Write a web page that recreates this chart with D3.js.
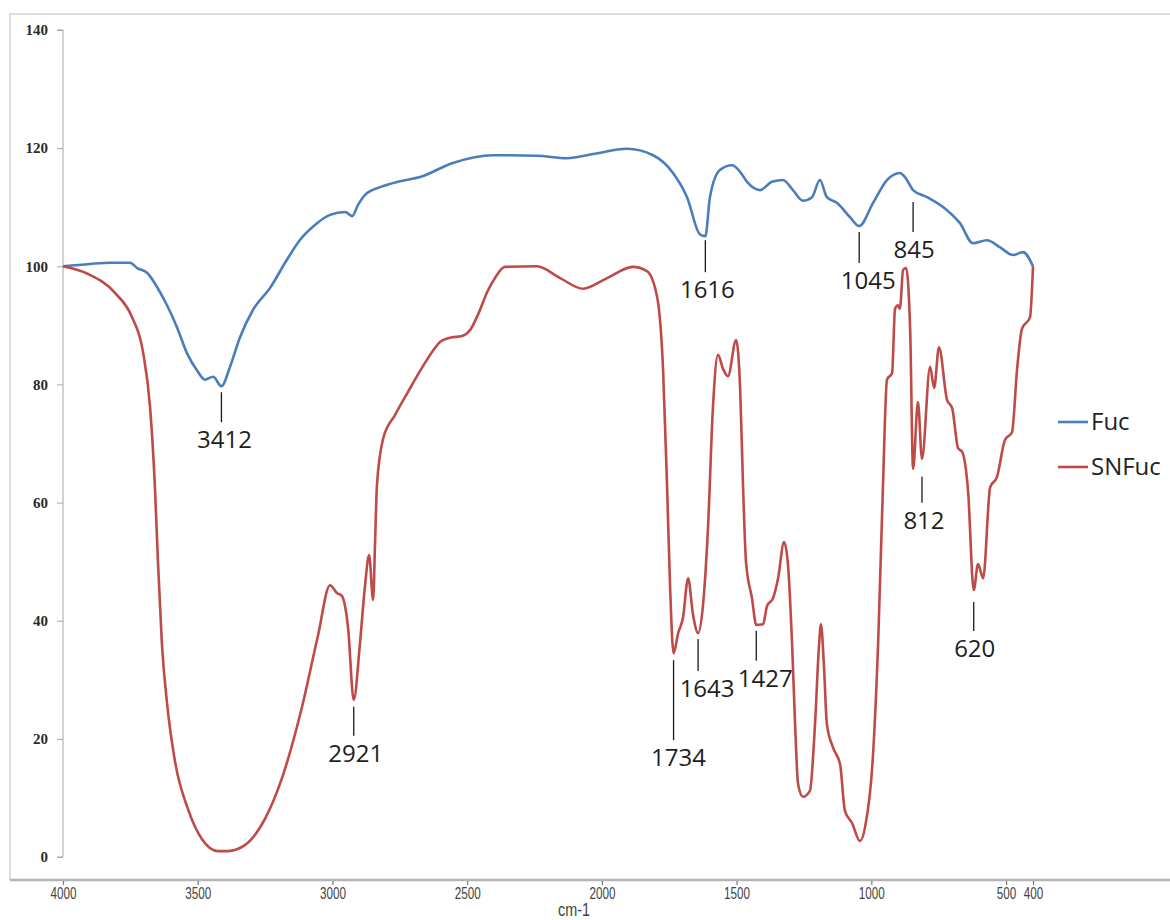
<!DOCTYPE html>
<html>
<head>
<meta charset="utf-8">
<script src="https://cdn.jsdelivr.net/npm/d3@7"></script>
<style>
  html, body { margin: 0; padding: 0; background: #ffffff; }
  svg { display: block; }
</style>
</head>
<body>
<svg id="chart" width="1170" height="920"></svg>
<script>
// FTIR spectra of fucoidan (Fuc) and its modified form (SNFuc), transmittance vs wavenumber

const seriesNames = ["Fuc", "SNFuc"];
const seriesColors = ["#4a7ebb", "#be4b48"];

const fucWavenumbers = [4000, 3900, 3826, 3751, 3725, 3688, 3651, 3614, 3577, 3540, 3503, 3473, 3443, 3412,
  3380, 3343, 3295, 3232, 3169, 3120, 3065, 3009, 2953, 2927, 2905, 2879, 2823, 2749, 2675, 2553, 2404,
  2241, 2129, 2033, 1907, 1810, 1736, 1684, 1636, 1616, 1599, 1562, 1517, 1487, 1458, 1413, 1369, 1328,
  1291, 1254, 1220, 1191, 1165, 1127, 1079, 1045, 994, 942, 894, 875, 845, 793, 719, 671, 623, 571, 522,
  474, 437, 400];
const fucValues = [100, 100.4, 100.6, 100.6, 99.7, 98.9, 96.5, 93.4, 89.7, 85.3, 82.4, 80.8, 81.3, 79.7,
  83.0, 88.0, 92.6, 96.3, 101.1, 104.5, 107.0, 108.7, 109.2, 108.5, 110.4, 112.1, 113.4, 114.4, 115.1,
  117.5, 118.8, 118.7, 118.3, 119.0, 119.9, 118.8, 115.8, 111.7, 105.4, 105.1, 111.7, 116.3, 117.1, 116.0,
  114.1, 112.9, 114.3, 114.6, 112.9, 111.1, 111.7, 114.6, 111.7, 110.7, 108.3, 106.8, 110.7, 114.6, 115.8,
  115.1, 112.9, 111.7, 109.5, 107.3, 103.9, 104.4, 103.2, 101.9, 102.4, 100];

const snfucWavenumbers = [4000, 3907, 3807, 3744, 3703, 3677, 3659, 3647, 3633, 3614, 3584, 3536, 3484,
  3425, 3388, 3325, 3250, 3187, 3113, 3054, 3009, 2983, 2965, 2942, 2921, 2898, 2879, 2864, 2849, 2842,
  2835, 2812, 2768, 2720, 2668, 2619, 2601, 2564, 2519, 2489, 2460, 2426, 2397, 2360, 2241, 2155, 2070,
  1981, 1885, 1833, 1795, 1773, 1758, 1747, 1734, 1717, 1699, 1680, 1662, 1643, 1625, 1606, 1588, 1569,
  1550, 1532, 1502, 1487, 1476, 1465, 1443, 1427, 1402, 1387, 1365, 1346, 1324, 1309, 1294, 1283, 1272,
  1254, 1228, 1209, 1194, 1187, 1176, 1165, 1142, 1116, 1098, 1072, 1042, 1023, 994, 975, 957, 942, 923,
  912, 901, 894, 882, 871, 856, 845, 827, 812, 782, 767, 749, 719, 700, 678, 663, 641, 620, 604, 585, 559,
  534, 504, 478, 459, 441, 411, 400];
const snfucValues = [100, 98.7, 95.5, 91.4, 85.5, 76.2, 62.8, 49.4, 36.1, 26.1, 16.1, 8.1, 3.0, 1.0,
  1.0, 2.0, 6.5, 13.4, 25.4, 37.4, 46.0, 44.7, 44.2, 38.8, 26.6, 36.1, 46.0, 51.1, 43.5, 53.0, 62.8, 70.8,
  74.8, 78.7, 82.8, 86.2, 87.2, 87.9, 88.2, 89.2, 91.8, 95.6, 98.0, 99.9, 100, 98.0, 96.2, 98.0, 99.9, 99.2,
  94.8, 82.6, 62.6, 45.9, 34.5, 37.9, 40.5, 47.2, 41.1, 37.9, 42.5, 55.9, 76.0, 85.0, 82.6, 81.4, 87.5,
  79.4, 62.6, 49.9, 43.8, 39.3, 39.4, 42.5, 43.8, 47.2, 53.3, 49.3, 35.9, 22.5, 12.4, 10.2, 11.2, 22.5,
  35.9, 39.4, 32.5, 22.5, 18.5, 15.7, 7.8, 5.8, 2.7, 5.1, 17.1, 35.9, 62.6, 80.8, 81.9, 92.8, 93.4, 92.8,
  99.4, 99.7, 89.4, 65.7, 77.0, 67.4, 83.0, 79.4, 86.3, 77.4, 76.0, 69.2, 68.6, 62.0, 45.2, 49.6, 47.2,
  62.6, 64.3, 70.6, 71.9, 82.6, 89.4, 91.4, 100];

// Band assignments marked on the spectra
const calloutLabels = ["3412", "1616", "1045", "845", "2921", "1734", "1643", "1427", "812", "620"];
const calloutWavenumbers = [3412, 1616, 1045, 845, 2921, 1734, 1643, 1427, 812, 620];
const calloutSeries = ["Fuc", "Fuc", "Fuc", "Fuc", "SNFuc", "SNFuc", "SNFuc", "SNFuc", "SNFuc", "SNFuc"];

const yTicks = [0, 20, 40, 60, 80, 100, 120, 140];
const xTicks = [4000, 3500, 3000, 2500, 2000, 1500, 1000, 500, 400];
const xTitle = "cm-1";

// ---- layout ----
const W = 1170, H = 920;
const plot = { left: 63, right: 1033, top: 30, bottom: 857 };
// per-callout leader: gap below the band, leader length, text shift
const calloutStyle = {
  "3412": { gap: 6, len: 30, dx: 3 },
  "1616": { gap: 4, len: 32, dx: 2 },
  "1045": { gap: 6, len: 31, dx: 9 },
  "845":  { gap: 12, len: 30, dx: 1 },
  "2921": { gap: 7, len: 29, dx: 2 },
  "1734": { gap: 7, len: 80, dx: 5 },
  "1643": { gap: 6, len: 32, dx: 9 },
  "1427": { gap: 6, len: 30, dx: 9 },
  "812":  { gap: 18, len: 26, dx: 2 },
  "620":  { gap: 12, len: 29, dx: 1 }
};

const svg = d3.select("#chart");
svg.append("rect").attr("width", W).attr("height", H).attr("fill", "#ffffff");

const x = d3.scaleLinear().domain([4000, 400]).range([plot.left, plot.right]);
const y = d3.scaleLinear().domain([0, 140]).range([plot.bottom, plot.top]);

// chart frame
svg.append("path")
  .attr("d", `M1172,14 H10 V880`)
  .attr("fill", "none").attr("stroke", "#d4d4d4").attr("stroke-width", 1.5);
svg.append("line")
  .attr("x1", 10).attr("x2", 1170).attr("y1", 880).attr("y2", 880)
  .attr("stroke", "#b4b4b4").attr("stroke-width", 2.5);

// y axis
const yAxis = d3.axisLeft(y).tickValues(yTicks).tickSize(6).tickPadding(9).tickFormat(d3.format("d"));
const gy = svg.append("g").attr("transform", `translate(${plot.left},0)`).call(yAxis);
gy.select(".domain").attr("stroke", "#a6a6a6").attr("stroke-width", 1)
  .attr("d", `M-6,${plot.top}H0V${plot.bottom}H-6`);
gy.selectAll(".tick line").attr("stroke", "#a6a6a6");
gy.selectAll(".tick text")
  .attr("font-family", "'Liberation Serif', 'DejaVu Serif', serif")
  .attr("font-weight", "bold").attr("font-size", 15).attr("fill", "#2b2b2b");

// x axis below the frame (condensed labels)
const xAxis = d3.axisBottom(x).tickValues(xTicks).tickSize(4).tickPadding(2).tickFormat(d3.format("d"));
const gx = svg.append("g").attr("transform", `translate(0,881)`).call(xAxis);
gx.select(".domain").remove();
gx.selectAll(".tick line").attr("stroke", "#777").attr("stroke-width", 1.2);
gx.selectAll(".tick text")
  .attr("font-family", "'Liberation Sans', 'Arial', sans-serif")
  .attr("font-size", 15).attr("fill", "#444")
  .attr("transform", "scale(0.78,1.1)");

svg.append("text")
  .attr("x", 574).attr("y", 916).attr("text-anchor", "middle")
  .attr("font-family", "'Liberation Sans', 'Arial', sans-serif")
  .attr("font-size", 17).attr("fill", "#444")
  .attr("transform", "translate(574,916) scale(0.85,1.05) translate(-574,-916)")
  .text(xTitle);

// spectra
const line = d3.line()
  .x(d => x(d[0])).y(d => y(d[1]))
  .curve(d3.curveMonotoneX);

const seriesData = {
  Fuc: d3.zip(fucWavenumbers, fucValues),
  SNFuc: d3.zip(snfucWavenumbers, snfucValues)
};

seriesNames.forEach((name, i) => {
  svg.append("path")
    .datum(seriesData[name])
    .attr("fill", "none")
    .attr("stroke", seriesColors[i])
    .attr("stroke-width", 2.6)
    .attr("stroke-linejoin", "round")
    .attr("d", line);
});

// band callouts
const valueAt = (name, wn) => {
  const wns = name === "Fuc" ? fucWavenumbers : snfucWavenumbers;
  const vals = name === "Fuc" ? fucValues : snfucValues;
  return vals[wns.indexOf(wn)];
};

const cg = svg.append("g");
calloutLabels.forEach((label, i) => {
  const wn = calloutWavenumbers[i];
  const st = calloutStyle[label];
  const px = x(wn);
  const py = y(valueAt(calloutSeries[i], wn));
  const y1 = py + st.gap, y2 = y1 + st.len;
  cg.append("line")
    .attr("x1", px).attr("x2", px).attr("y1", y1).attr("y2", y2)
    .attr("stroke", "#1a1a1a").attr("stroke-width", 1.3);
  cg.append("text")
    .attr("x", px + st.dx).attr("y", y2 + 26)
    .attr("text-anchor", "middle")
    .attr("font-family", "'Open Sans', 'Noto Sans', sans-serif")
    .attr("font-size", 24).attr("fill", "#1e1e1e")
    .text(label);
});

// legend
const lg = svg.append("g").attr("transform", "translate(1058,422)");
seriesNames.forEach((name, i) => {
  const row = lg.append("g").attr("transform", `translate(0,${i * 45})`);
  row.append("line").attr("x1", 0).attr("x2", 30).attr("y1", 0).attr("y2", 0)
    .attr("stroke", seriesColors[i]).attr("stroke-width", 2.6);
  row.append("text").attr("x", 33).attr("y", 0).attr("dy", "0.35em")
    .attr("font-family", "'Open Sans', 'Noto Sans', sans-serif")
    .attr("font-size", 24).attr("fill", "#222")
    .text(name);
});
</script>
</body>
</html>
